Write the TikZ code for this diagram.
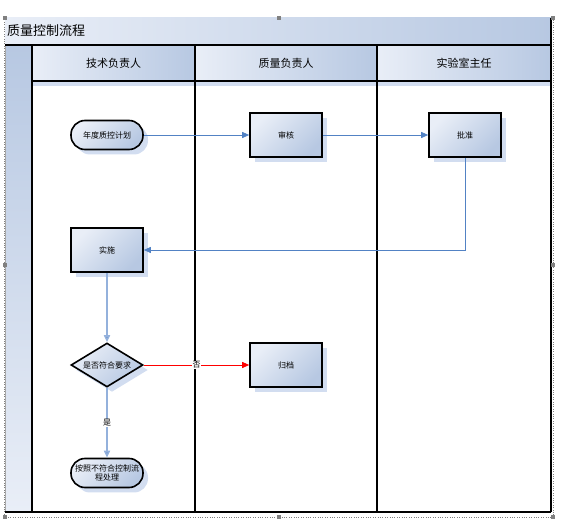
\documentclass[tikz,border=0pt]{standalone}
\usepackage{fontspec}
\newfontfamily\cjk{Noto Sans CJK SC}
\usepackage{tikz}
\usetikzlibrary{arrows.meta,calc,positioning,shapes.geometric,shadows}
\definecolor{lanelight}{HTML}{E9EEF7}
\definecolor{laneblue}{HTML}{B7C8E2}
\definecolor{flowblue}{HTML}{5282C4}
\definecolor{paleblue}{HTML}{94B1DC}
\definecolor{shadowblue}{HTML}{D2DDF0}
\tikzset{
	boxshade/.style={left color=lanelight,right color=laneblue,shading angle=45},
	boxshadow/.style={drop shadow={shadow xshift=5pt,shadow yshift=-5pt,fill=shadowblue,opacity=1}},
	procbox/.style={draw,line width=1.6pt,boxshade,boxshadow,minimum width=72pt,minimum height=44pt,inner sep=1pt,font=\cjk\fontsize{8}{9.5}\selectfont},
	termbox/.style={procbox,rounded corners=14pt,minimum height=29pt,align=center},
	checkbox/.style={draw,line width=1.6pt,boxshade,boxshadow,diamond,aspect=1.64,minimum width=72pt,minimum height=44pt,inner sep=0pt,font=\cjk\fontsize{8}{9.5}\selectfont},
	lanehead/.style={left color=lanelight,right color=laneblue,minimum width=163pt,minimum height=35pt,inner sep=0pt,font=\cjk\fontsize{11}{12}\selectfont},
	laneline/.style={line width=1.8pt,black},
	flow/.style={flowblue,line width=0.8pt,-{Triangle[length=7pt,width=6pt]}},
	flowpale/.style={paleblue,line width=1.6pt,-{Triangle[length=7pt,width=6pt,fill=flowblue]}},
	flowno/.style={red,line width=0.8pt,-{Triangle[length=7pt,width=6pt]}},
	edgelabel/.style={fill=white,text=black,inner sep=0.5pt,font=\cjk\fontsize{8}{9}\selectfont},
}
\begin{document}
\begin{tikzpicture}[x=1pt,y=-1pt]
		\useasboundingbox (0,0) rectangle (563,521);
		% frame and title band
		\draw[gray,dotted] (4,17) rectangle (553,517);
		\shade[left color=lanelight,right color=laneblue] (5,18) rectangle (551,45);
		\node[anchor=west,inner sep=0pt,font=\cjk\fontsize{13}{14}\selectfont] (title) at (7,31) {质量控制流程};
		\shade[top color=laneblue,bottom color=lanelight] (5,45) rectangle (32,512);
		\draw[gray!70] (5,45) to (5,512);
		% lane headers
		\fill[shadowblue] (32,81) rectangle (551,86);
		\node[lanehead] (head1) at (113.5,63) {技术负责人};
		\node[lanehead,minimum width=182pt] (head2) at (286,63) {质量负责人};
		\node[lanehead,minimum width=174pt] (head3) at (464,63) {实验室主任};
		% steps
		\node[termbox] (plan) at (107,135) {年度质控计划};
		\node[procbox] (review) at (286,135) {审核};
		\node[procbox] (approve) at (465,135) {批准};
		\node[procbox] (impl) at (107,250) {实施};
		\node[checkbox] (check) at (107,365) {是否符合要求};
		\node[procbox] (archive) at (286,365) {归档};
		\node[termbox] (handle) at (107,473) {按照不符合控制流\\程处理};
		% lane lines
		\draw[laneline] (5,45) to (551,45);
		\draw[laneline] (32,81) to (551,81);
		\draw[laneline] (5,512) to (551,512);
		\draw[laneline] (32,45) to (32,512);
		\draw[laneline] (195,45) to (195,512);
		\draw[laneline] (377,45) to (377,512);
		\draw[laneline] (551,18) to (551,512);
		% connectors
		\draw[flow] (plan) to (review);
		\draw[flow] (review) to (approve);
		\draw[flow] (approve) |- (impl);
		\draw[flowpale] (impl) to (check);
		\draw[flowno] (check) to node[edgelabel] {否} (archive);
		\draw[flowpale] (check) to node[edgelabel] {是} (handle);
		% selection handles
		\fill[gray] (3,16) rectangle (7,20);
		\fill[gray] (277,16) rectangle (281,20);
		\fill[gray] (551,16) rectangle (555,20);
		\fill[gray] (3,263) rectangle (7,267);
		\fill[gray] (551,263) rectangle (555,267);
		\fill[gray] (3,515) rectangle (7,519);
		\fill[gray] (277,515) rectangle (281,519);
		\fill[gray] (551,515) rectangle (555,519);
	\end{tikzpicture}
\end{document}
